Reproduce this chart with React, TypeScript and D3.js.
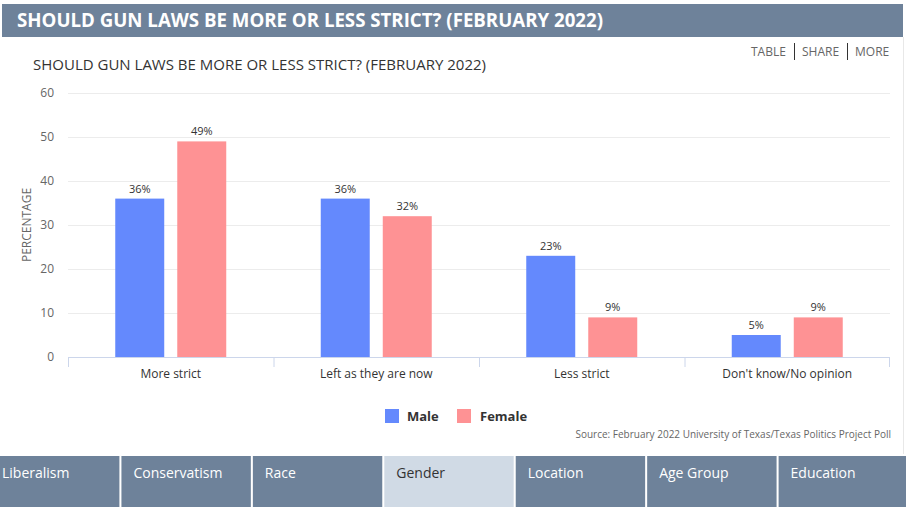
import React from "react";
import * as d3 from "d3";

const categories = ["More strict", "Left as they are now", "Less strict", "Don't know/No opinion"];
const seriesNames = ["Male", "Female"];
const maleValues = [36, 36, 23, 5];
const femaleValues = [49, 32, 9, 9];
const yTicks = [0, 10, 20, 30, 40, 50, 60];
const tabs = ["Liberalism", "Conservatism", "Race", "Gender", "Location", "Age Group", "Education"];
const activeTab = "Gender";
const colors = ["#6489fd", "#fe9294"];

const W = 906;
const H = 511;
const FONT = "'Open Sans', 'Noto Sans', sans-serif";

export default function App() {
  const plotLeft = 68;
  const plotRight = 890;
  const x = d3.scaleBand<string>().domain(categories).range([plotLeft, plotRight]);
  const y = d3.scaleLinear().domain([0, 60]).range([357, 93]);
  const groupW = 111;
  const inner = d3.scaleBand<string>().domain(seriesNames).range([0, groupW]).paddingInner(0.21);
  const groupOffset = (x.bandwidth() - groupW) / 2;
  const data = [maleValues, femaleValues];

  const tabX = d3.scaleBand<string>().domain(tabs).range([-10, 908]).paddingInner(0.0155);

  return (
    <div>
      <style>{`body{margin:0;}`}</style>
      <svg width={W} height={H} style={{ display: "block", fontFamily: FONT }}>
        <rect x={0} y={0} width={W} height={H} fill="#ffffff" />
        {/* header */}
        <rect x={2} y={4} width={901} height={33} fill="#6e829a" />
        <text x={17} y={27} fill="#ffffff" fontSize={19} fontWeight="bold" textLength={586} lengthAdjust="spacingAndGlyphs">
          SHOULD GUN LAWS BE MORE OR LESS STRICT? (FEBRUARY 2022)
        </text>
        <line x1={903.5} y1={37} x2={903.5} y2={454} stroke="#e8e8e8" />
        {/* subtitle */}
        <text x={33} y={70} fill="#333333" fontSize={14} textLength={453} lengthAdjust="spacingAndGlyphs">
          SHOULD GUN LAWS BE MORE OR LESS STRICT? (FEBRUARY 2022)
        </text>
        {/* menu */}
        <g fill="#666666" fontSize={12}>
          <text x={751} y={56}>TABLE</text>
          <line x1={794.5} y1={43} x2={794.5} y2={60} stroke="#333" />
          <text x={802} y={56}>SHARE</text>
          <line x1={847.5} y1={43} x2={847.5} y2={60} stroke="#333" />
          <text x={855} y={56}>MORE</text>
        </g>
        {/* grid */}
        {yTicks.map((t) => (
          <g key={t}>
            {t !== 0 && <line x1={plotLeft} x2={plotRight} y1={y(t) + 0.5} y2={y(t) + 0.5} stroke="#ececec" />}
            <text x={54} y={y(t) + 4} textAnchor="end" fill="#666666" fontSize={12}>{t}</text>
          </g>
        ))}
        <text transform={`translate(31,225) rotate(-90)`} textAnchor="middle" fill="#666666" fontSize={12}>PERCENTAGE</text>
        {/* bars */}
        {categories.map((c, i) => (
          <g key={c}>
            {seriesNames.map((s, j) => {
              const v = data[j][i];
              const bx = (x(c) as number) + groupOffset + (inner(s) as number);
              const bw = inner.bandwidth();
              return (
                <g key={s}>
                  <rect x={bx} y={y(v)} width={bw} height={y(0) - y(v)} fill={colors[j]} />
                  <text x={bx + bw / 2} y={y(v) - 6} textAnchor="middle" fill="#333333" fontSize={11}>{v}%</text>
                </g>
              );
            })}
          </g>
        ))}
        {/* x axis */}
        <line x1={plotLeft} x2={plotRight} y1={357.5} y2={357.5} stroke="#ccd6eb" />
        {categories.map((c) => (
          <line key={c} x1={(x(c) as number) + 0.5} x2={(x(c) as number) + 0.5} y1={357} y2={367} stroke="#ccd6eb" />
        ))}
        <line x1={plotRight - 0.5} x2={plotRight - 0.5} y1={357} y2={367} stroke="#ccd6eb" />
        {categories.map((c) => (
          <text key={c} x={(x(c) as number) + x.bandwidth() / 2} y={378} textAnchor="middle" fill="#333333" fontSize={12}>{c}</text>
        ))}
        {/* legend */}
        <rect x={385} y={409} width={14} height={14} fill={colors[0]} />
        <text x={407} y={421} fill="#333333" fontSize={13} fontWeight="bold">{seriesNames[0]}</text>
        <rect x={457} y={409} width={14} height={14} fill={colors[1]} />
        <text x={480} y={421} fill="#333333" fontSize={13} fontWeight="bold">{seriesNames[1]}</text>
        {/* source */}
        <text x={891} y={438} textAnchor="end" fill="#666666" fontSize={10}>
          Source: February 2022 University of Texas/Texas Politics Project Poll
        </text>
        {/* tabs */}
        {tabs.map((t) => {
          const tx = tabX(t) as number;
          const active = t === activeTab;
          const left = Math.max(tx, 0);
          return (
            <g key={t}>
              <rect x={left} y={456} width={tx + tabX.bandwidth() - left} height={51} fill={active ? "#d0dae5" : "#6e829a"} />
              <text x={tx + 12} y={478} fill={active ? "#333333" : "#ffffff"} fontSize={14}>{t}</text>
            </g>
          );
        })}
      </svg>
    </div>
  );
}
